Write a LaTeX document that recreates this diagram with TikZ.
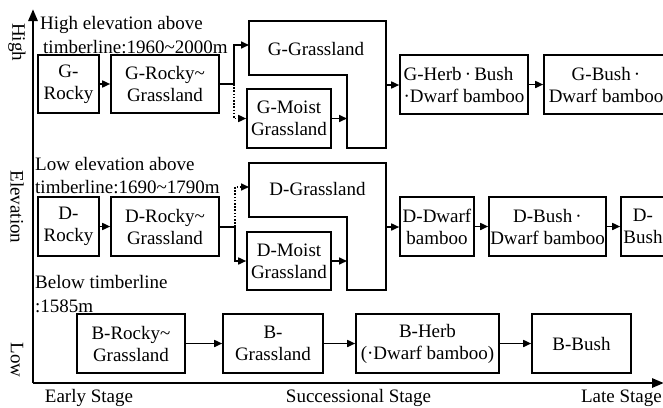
\documentclass[tikz,border=0pt]{standalone}
\usepackage{fontspec}
\setmainfont{Liberation Serif}
\usetikzlibrary{arrows.meta}
\begin{document}
\begin{tikzpicture}[x=1pt,y=-1pt,
  every node/.style={font=\fontsize{19}{22}\selectfont, inner sep=0pt},
  box/.style={draw, line width=1.6pt, align=center},
  lshape/.style={draw, line width=1.6pt},
  conn/.style={line width=1.6pt},
  arr/.style={line width=1.6pt, -{Triangle[length=8pt,width=7pt]}},
  dotarr/.style={arr, dash pattern=on 1.6pt off 1.6pt},
  axisline/.style={line width=2.8pt, -{Triangle[length=12pt,width=9pt]}},
  lbl/.style={anchor=base west},
  sidelbl/.style={rotate=-90}
  ]
\useasboundingbox (0,0) rectangle (663,407);

% axes
\coordinate (o) at (33,383);
\coordinate (ytop) at (33,9);
\coordinate (xend) at (664,383);
\draw[axisline] (o) -- (ytop);
\draw[axisline] (o) -- (xend);

\node[sidelbl] (high) at (17,42) {High};
\node[sidelbl] (elev) at (17,207) {Elevation};
\node[sidelbl] (low) at (17,360) {Low};

\node[anchor=base] (early) at (89,402.5) {Early Stage};
\node[anchor=base] (succ) at (358.5,402.5) {Successional Stage};
\node[anchor=base east] (late) at (662,402.5) {Late Stage};

% ---------- G row ----------
\node[lbl] (ghead1) at (40,29) {High elevation above};
\node[lbl] (ghead2) at (43,53) {timberline:1960\textasciitilde 2000m};

\node[box, minimum width=61, minimum height=58] (grocky) at (68.5,84) {G-\\Rocky};
\node[box, minimum width=108, minimum height=58] (grg) at (165,84) {G-Rocky\textasciitilde\\Grassland};
\draw[lshape] (249,21) -- (386,21) -- (386,148) -- (347,148) -- (347,75) -- (249,75) -- cycle;
\node[anchor=base] (gl) at (316,55) {G-Grassland};
\coordinate (glA) at (249,45);
\coordinate (glB) at (347,118.5);
\coordinate (glC) at (386,85);
\node[box, minimum width=84, minimum height=59] (gmoist) at (289,118.5) {G-Moist\\Grassland};
\node[box, align=left, minimum width=128, minimum height=59] (gherb) at (464,84.5) {G-Herb\,·\,Bush\\·Dwarf bamboo};
\node[box, minimum width=124, minimum height=59] (gbush) at (606,84.5) {G-Bush\,·\\Dwarf bamboo};

\coordinate (gj) at (234,84);
\draw[arr] (grocky) -- (grg);
\draw[conn] (grg.east) -- (gj);
\draw[arr] (gj) |- (glA);
\draw[dotarr] (gj) |- (gmoist.west);
\draw[arr] (gmoist.east) -- (glB);
\draw[arr] (glC) -- (gherb.west |- glC);
\draw[arr] (gherb) -- (gbush);

% ---------- D row ----------
\node[lbl] (dhead1) at (35,170) {Low elevation above};
\node[lbl] (dhead2) at (35,193) {timberline:1690\textasciitilde 1790m};

\node[box, minimum width=61, minimum height=59] (drocky) at (68.5,226.5) {D-\\Rocky};
\node[box, minimum width=108, minimum height=59] (drg) at (165,226.5) {D-Rocky\textasciitilde\\Grassland};
\draw[lshape] (249,163) -- (386,163) -- (386,290) -- (347,290) -- (347,217) -- (249,217) -- cycle;
\node[anchor=base] (dl) at (317.5,195) {D-Grassland};
\coordinate (dlA) at (249,187);
\coordinate (dlB) at (347,261);
\coordinate (dlC) at (386,227);
\node[box, minimum width=84, minimum height=58] (dmoist) at (289,261) {D-Moist\\Grassland};
\node[box, minimum width=74, minimum height=59] (ddwarf) at (437,226.5) {D-Dwarf\\bamboo};
\node[box, minimum width=117, minimum height=59] (dbush) at (547.5,226.5) {D-Bush\,·\\Dwarf bamboo};
\node[box, minimum width=44, minimum height=59] (dbush2) at (643,226.5) {D-\\Bush};

\coordinate (dj) at (235,227);
\draw[arr] (drocky) -- (drg);
\draw[conn] (drg.east |- dj) -- (dj);
\draw[dotarr] (dj) |- (dlA);
\draw[arr] (dj) |- (dmoist.west);
\draw[arr] (dmoist.east) -- (dlB);
\draw[arr] (dlC) -- (ddwarf.west |- dlC);
\draw[arr] (ddwarf) -- (dbush);
\draw[arr] (dbush) -- (dbush2);

% ---------- B row ----------
\node[lbl] (bhead1) at (35,288) {Below timberline};
\node[lbl] (bhead2) at (35,312) {:1585m};

\node[box, minimum width=108, minimum height=59] (brg) at (131,343.5) {B-Rocky\textasciitilde\\Grassland};
\node[box, minimum width=100, minimum height=59] (bgrass) at (273,343.5) {B-\\Grassland};
\node[box, minimum width=143, minimum height=59] (bherb) at (427.5,343.5) {B-Herb\\(·Dwarf bamboo)};
\node[box, minimum width=99, minimum height=59] (bbush) at (581.5,343.5) {B-Bush};

\draw[arr] (brg) -- (bgrass);
\draw[arr] (bgrass) -- (bherb);
\draw[arr] (bherb) -- (bbush);
\end{tikzpicture}
\end{document}
